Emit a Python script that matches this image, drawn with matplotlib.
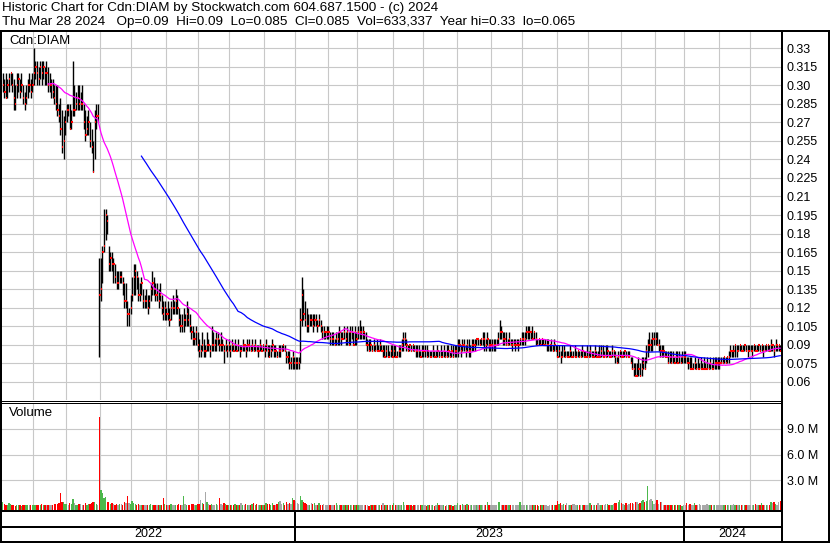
import numpy as np
import pandas as pd
import matplotlib
matplotlib.use("Agg")
import matplotlib.pyplot as plt
from matplotlib.lines import Line2D

plt.rcParams['font.family'] = ['Liberation Sans', 'DejaVu Sans']

# ---------------- data ----------------
holidays = ['2022-04-15', '2022-05-23', '2022-07-01', '2022-08-01', '2022-09-05', '2022-10-10',
            '2022-12-26', '2022-12-27', '2023-01-02', '2023-02-20', '2023-04-07', '2023-05-22',
            '2023-07-03', '2023-08-07', '2023-09-04', '2023-10-09', '2023-12-25', '2023-12-26',
            '2024-01-01', '2024-02-19']
start_date, end_date = '2022-04-01', '2024-03-28'

high_2022 = [
    0.31,0.305,0.31,0.305,0.31,0.31,0.31,0.305,0.30,0.31,0.31,0.305,0.31,0.30,0.295,0.30,0.305,0.31,0.305,0.31,
    0.33,0.32,0.32,0.315,0.32,0.32,0.32,0.315,0.32,0.315,0.31,0.305,0.305,0.30,0.30,0.30,0.285,0.29,0.28,0.275,0.28,
    0.285,0.285,0.285,0.28,0.32,0.30,0.295,0.30,0.30,0.295,0.30,0.285,0.28,0.275,0.28,0.27,0.265,0.255,0.28,0.285,0.285,0.16,
    0.16,0.17,0.20,0.20,0.195,0.17,0.165,0.165,0.16,0.155,0.15,0.15,0.15,0.15,0.145,0.14,0.14,0.125,0.12,0.13,
    0.145,0.155,0.155,0.15,0.145,0.14,0.145,0.135,0.13,0.135,0.13,0.13,0.14,0.15,0.145,0.14,0.14,0.135,0.14,0.13,0.125,0.125,
    0.12,0.125,0.12,0.125,0.13,0.125,0.135,0.13,0.12,0.115,0.115,0.12,0.115,0.125,0.12,0.115,0.105,0.105,0.10,0.105,0.10,
    0.095,0.09,0.10,0.095,0.09,0.10,0.095,0.09,0.105,0.10,0.095,0.10,0.10,0.095,0.10,0.095,0.09,0.095,0.09,0.095,
    0.09,0.095,0.09,0.095,0.09,0.095,0.09,0.09,0.095,0.09,0.09,0.095,0.095,0.09,0.095,0.09,0.095,0.09,0.09,0.095,0.09,0.09,
    0.09,0.095,0.09,0.09,0.09,0.095,0.09,0.09,0.085,0.09,0.09,0.09,0.09,0.09,0.085,0.085,0.085,0.08,0.085,0.08]
low_2022 = [
    0.295,0.29,0.29,0.29,0.295,0.30,0.295,0.28,0.28,0.29,0.295,0.29,0.295,0.285,0.28,0.285,0.29,0.295,0.29,0.295,
    0.30,0.305,0.30,0.30,0.305,0.30,0.305,0.30,0.30,0.295,0.295,0.29,0.29,0.285,0.28,0.275,0.27,0.26,0.245,0.24,0.26,
    0.27,0.275,0.265,0.265,0.275,0.275,0.28,0.28,0.28,0.28,0.28,0.265,0.255,0.26,0.26,0.25,0.245,0.23,0.24,0.265,0.27,0.08,
    0.125,0.14,0.165,0.175,0.18,0.15,0.15,0.15,0.14,0.14,0.135,0.135,0.14,0.14,0.13,0.12,0.12,0.105,0.105,0.115,
    0.125,0.13,0.13,0.135,0.125,0.125,0.13,0.12,0.12,0.12,0.115,0.12,0.125,0.13,0.13,0.125,0.125,0.12,0.125,0.115,0.11,0.11,
    0.11,0.11,0.105,0.11,0.115,0.115,0.115,0.115,0.105,0.10,0.10,0.10,0.105,0.105,0.105,0.10,0.095,0.09,0.09,0.09,0.085,
    0.08,0.08,0.085,0.08,0.08,0.085,0.085,0.08,0.085,0.085,0.085,0.085,0.09,0.085,0.085,0.085,0.075,0.085,0.08,0.085,
    0.08,0.085,0.085,0.085,0.085,0.085,0.08,0.085,0.085,0.085,0.08,0.085,0.085,0.085,0.085,0.085,0.085,0.085,0.08,0.085,0.085,0.085,
    0.08,0.085,0.08,0.08,0.08,0.085,0.08,0.08,0.08,0.08,0.08,0.085,0.085,0.085,0.075,0.075,0.07,0.07,0.07,0.07]
close_2022 = [
    0.30,0.295,0.29,0.30,0.305,0.31,0.30,0.29,0.285,0.30,0.305,0.295,0.30,0.29,0.285,0.29,0.30,0.30,0.295,0.30,
    0.31,0.315,0.31,0.305,0.315,0.31,0.315,0.31,0.31,0.30,0.30,0.30,0.295,0.29,0.285,0.28,0.275,0.265,0.25,0.255,0.27,
    0.28,0.28,0.265,0.27,0.28,0.28,0.285,0.29,0.285,0.285,0.285,0.27,0.26,0.265,0.27,0.255,0.25,0.23,0.27,0.275,0.275,0.13,
    0.135,0.165,0.17,0.195,0.19,0.155,0.16,0.155,0.155,0.145,0.14,0.14,0.145,0.145,0.14,0.125,0.125,0.115,0.115,0.12,
    0.13,0.145,0.15,0.145,0.13,0.13,0.14,0.125,0.125,0.125,0.12,0.125,0.135,0.14,0.135,0.13,0.13,0.125,0.13,0.12,0.115,0.12,
    0.115,0.115,0.11,0.12,0.12,0.12,0.125,0.12,0.11,0.105,0.105,0.11,0.11,0.115,0.11,0.105,0.10,0.095,0.095,0.10,0.09,
    0.085,0.085,0.09,0.085,0.085,0.09,0.09,0.085,0.09,0.09,0.09,0.095,0.095,0.09,0.09,0.09,0.085,0.09,0.085,0.09,
    0.085,0.09,0.085,0.09,0.085,0.09,0.085,0.085,0.09,0.09,0.085,0.09,0.09,0.085,0.09,0.085,0.09,0.085,0.085,0.09,0.085,0.09,
    0.085,0.09,0.085,0.08,0.085,0.09,0.085,0.085,0.08,0.085,0.085,0.085,0.09,0.085,0.08,0.08,0.075,0.075,0.08,0.075]
vol_2022 = [
    0.45,0.3,0.2,0.1,0.35,0.25,0.15,0.1,0.05,0.2,0.1,0.15,0.05,0.2,0.1,0.1,0.15,0.1,0.2,0.15,
    0.15,0.1,0.2,0.1,0.15,0.25,0.15,0.1,0.1,0.2,0.15,0.2,0.1,0.25,0.3,0.25,0.35,1.6,0.55,0.45,0.3,
    0.3,0.15,0.35,0.3,0.9,0.4,0.2,0.15,0.3,0.25,0.15,0.2,0.35,0.2,0.25,0.3,0.4,0.5,0.45,0.3,0.15,10.4,
    1.85,1.6,0.95,1.05,0.55,0.45,0.3,0.35,0.25,0.2,0.3,0.2,0.25,0.3,0.2,0.55,0.35,1.25,0.4,0.3,
    0.6,0.35,0.3,0.2,0.25,0.15,0.2,0.15,0.1,0.2,0.15,0.1,0.25,0.2,0.15,0.1,0.2,0.1,0.15,0.2,0.95,0.3,
    0.2,0.1,0.15,0.25,0.1,0.15,0.2,0.1,0.3,0.2,0.15,1.2,0.3,0.2,0.15,0.2,0.25,0.3,0.2,0.15,0.25,
    0.3,0.7,0.4,0.25,1.65,0.55,0.3,0.2,0.25,0.15,0.1,0.25,0.2,0.95,0.3,0.2,0.35,0.25,0.15,0.2,
    0.15,0.2,0.1,0.3,0.15,0.2,0.1,0.35,0.2,0.15,0.3,0.2,0.15,0.1,0.25,0.4,0.2,0.3,0.15,0.2,0.1,0.15,
    0.2,0.35,0.25,0.3,0.15,0.4,0.2,0.15,0.3,0.45,0.6,0.3,0.35,0.2,0.5,0.3,0.4,0.25,0.95,0.7]

high_2023 = [
    0.08,0.08,0.08,0.12,0.145,0.135,0.125,0.12,0.115,0.115,0.115,0.115,0.115,0.115,0.11,0.115,0.11,0.105,0.105,0.10,0.105,
    0.105,0.10,0.10,0.10,0.095,0.10,0.10,0.105,0.10,0.10,0.105,0.10,0.105,0.10,0.105,0.105,0.10,0.105,0.10,
    0.105,0.11,0.105,0.105,0.10,0.10,0.095,0.095,0.095,0.09,0.095,0.09,0.095,0.09,0.095,0.09,0.09,0.09,0.09,0.09,0.085,0.09,0.09,
    0.09,0.09,0.085,0.09,0.09,0.095,0.10,0.10,0.095,0.09,0.09,0.09,0.09,0.09,0.09,0.09,0.09,0.085,0.09,
    0.09,0.09,0.09,0.085,0.085,0.085,0.09,0.085,0.085,0.09,0.085,0.09,0.085,0.09,0.085,0.09,0.09,0.085,0.09,0.09,0.09,0.09,
    0.095,0.095,0.09,0.095,0.095,0.09,0.095,0.095,0.09,0.095,0.095,0.095,0.095,0.095,0.095,0.095,0.10,0.10,0.095,0.10,0.095,0.095,
    0.095,0.095,0.095,0.095,0.10,0.11,0.105,0.10,0.10,0.10,0.095,0.10,0.095,0.095,0.095,0.095,0.095,0.095,0.095,0.10,
    0.10,0.10,0.105,0.105,0.105,0.10,0.105,0.10,0.10,0.095,0.095,0.095,0.095,0.095,0.095,0.095,0.095,0.09,0.095,0.09,0.095,0.09,
    0.09,0.09,0.085,0.09,0.09,0.085,0.085,0.085,0.09,0.085,0.085,0.09,0.085,0.085,0.085,0.085,0.09,0.085,0.085,0.09,
    0.085,0.09,0.085,0.085,0.09,0.085,0.085,0.09,0.09,0.09,0.085,0.09,0.09,0.085,0.085,0.09,0.085,0.085,0.08,0.085,0.085,
    0.085,0.085,0.085,0.085,0.085,0.085,0.08,0.08,0.075,0.075,0.075,0.08,0.075,0.08,0.08,0.08,0.09,0.095,0.10,0.095,0.10,0.10,
    0.10,0.10,0.095,0.09,0.09,0.09,0.085,0.085,0.085,0.085,0.085,0.085,0.08,0.085,0.085,0.085,0.08,0.085,0.085]
low_2023 = [
    0.07,0.07,0.07,0.075,0.105,0.11,0.105,0.10,0.10,0.105,0.105,0.10,0.105,0.105,0.10,0.105,0.10,0.095,0.095,0.095,0.095,
    0.095,0.09,0.09,0.09,0.09,0.09,0.09,0.09,0.09,0.095,0.095,0.09,0.09,0.09,0.09,0.095,0.09,0.09,0.09,
    0.095,0.095,0.095,0.095,0.095,0.09,0.085,0.085,0.085,0.085,0.085,0.085,0.085,0.085,0.085,0.085,0.08,0.08,0.08,0.08,0.08,0.08,0.08,
    0.08,0.08,0.08,0.08,0.08,0.085,0.085,0.09,0.085,0.085,0.085,0.085,0.085,0.085,0.08,0.08,0.08,0.08,0.08,
    0.08,0.08,0.08,0.08,0.08,0.08,0.08,0.08,0.08,0.08,0.08,0.08,0.08,0.08,0.08,0.08,0.08,0.08,0.08,0.08,0.08,0.08,
    0.08,0.085,0.08,0.085,0.085,0.08,0.085,0.08,0.08,0.085,0.085,0.085,0.09,0.09,0.09,0.09,0.09,0.085,0.085,0.09,0.085,0.085,
    0.085,0.085,0.085,0.09,0.09,0.095,0.095,0.09,0.09,0.09,0.09,0.09,0.09,0.085,0.09,0.085,0.09,0.085,0.09,0.09,
    0.09,0.09,0.095,0.095,0.095,0.095,0.095,0.095,0.09,0.09,0.09,0.09,0.09,0.09,0.09,0.085,0.085,0.085,0.085,0.085,0.085,0.085,
    0.08,0.08,0.075,0.08,0.08,0.08,0.08,0.08,0.08,0.08,0.08,0.08,0.08,0.08,0.08,0.08,0.08,0.08,0.08,0.08,
    0.08,0.08,0.08,0.08,0.08,0.08,0.08,0.08,0.08,0.08,0.08,0.08,0.08,0.08,0.08,0.08,0.08,0.075,0.075,0.075,0.08,
    0.08,0.08,0.08,0.08,0.08,0.08,0.075,0.07,0.065,0.065,0.065,0.065,0.065,0.065,0.07,0.07,0.075,0.08,0.085,0.085,0.085,0.09,
    0.09,0.09,0.085,0.08,0.08,0.08,0.08,0.08,0.075,0.075,0.075,0.075,0.075,0.075,0.075,0.075,0.075,0.075,0.075]
close_2023 = [
    0.075,0.075,0.075,0.11,0.13,0.115,0.11,0.105,0.105,0.11,0.11,0.105,0.11,0.11,0.105,0.11,0.105,0.10,0.10,0.10,0.10,
    0.10,0.095,0.095,0.095,0.09,0.095,0.095,0.10,0.095,0.095,0.10,0.095,0.10,0.09,0.10,0.10,0.09,0.10,0.095,
    0.10,0.10,0.10,0.10,0.10,0.09,0.09,0.085,0.09,0.085,0.09,0.085,0.085,0.085,0.09,0.085,0.085,0.08,0.085,0.08,0.08,0.085,0.08,
    0.085,0.08,0.08,0.085,0.085,0.09,0.095,0.095,0.09,0.085,0.09,0.085,0.09,0.085,0.085,0.085,0.085,0.08,0.085,
    0.085,0.085,0.08,0.085,0.08,0.08,0.085,0.08,0.08,0.085,0.08,0.08,0.08,0.085,0.08,0.08,0.085,0.08,0.085,0.08,0.085,0.085,
    0.09,0.09,0.085,0.09,0.09,0.085,0.09,0.085,0.085,0.09,0.09,0.09,0.095,0.095,0.09,0.095,0.095,0.095,0.09,0.095,0.09,0.09,
    0.09,0.09,0.09,0.09,0.095,0.10,0.10,0.095,0.095,0.09,0.09,0.095,0.09,0.09,0.09,0.09,0.09,0.09,0.095,0.095,
    0.095,0.095,0.10,0.10,0.10,0.10,0.095,0.10,0.095,0.09,0.095,0.09,0.095,0.09,0.09,0.09,0.09,0.09,0.09,0.085,0.09,0.085,
    0.08,0.085,0.08,0.08,0.085,0.08,0.08,0.08,0.085,0.08,0.08,0.08,0.08,0.085,0.08,0.08,0.085,0.08,0.08,0.08,
    0.08,0.085,0.08,0.08,0.085,0.08,0.08,0.08,0.085,0.08,0.08,0.08,0.085,0.08,0.08,0.085,0.085,0.08,0.075,0.08,0.085,
    0.08,0.08,0.085,0.08,0.08,0.08,0.075,0.07,0.07,0.065,0.065,0.07,0.065,0.07,0.075,0.07,0.085,0.09,0.09,0.09,0.095,0.095,
    0.095,0.09,0.09,0.085,0.085,0.085,0.08,0.08,0.075,0.08,0.075,0.08,0.075,0.08,0.075,0.08,0.075,0.08,0.08]
vol_2023 = [
    0.6,0.4,0.3,1.2,0.7,0.5,0.4,0.3,0.2,0.15,0.35,0.3,0.4,0.2,0.15,0.35,0.2,0.15,0.3,0.15,0.2,
    0.15,0.2,0.1,0.15,0.1,0.4,0.2,0.1,0.15,0.1,0.2,0.15,0.1,0.2,0.15,0.1,0.2,0.1,0.15,
    0.2,0.1,0.15,0.1,0.2,0.15,0.1,0.05,0.15,0.2,0.1,0.15,0.1,0.2,0.1,0.15,0.35,0.2,0.1,0.15,0.1,0.2,0.1,
    0.35,0.1,0.15,0.2,0.1,0.15,0.45,0.2,0.1,0.15,0.1,0.2,0.05,0.1,0.15,0.1,0.2,0.1,0.15,
    0.1,0.15,0.05,0.1,0.2,0.1,0.15,0.05,0.1,0.35,0.1,0.2,0.15,0.1,0.05,0.1,0.15,0.1,0.2,0.05,0.1,0.15,
    0.35,0.1,0.15,0.3,0.1,0.2,0.3,0.15,0.1,0.2,0.15,0.1,0.2,0.1,0.15,0.2,0.1,0.1,0.15,0.45,0.1,0.2,
    0.15,0.1,0.2,0.1,0.45,0.45,0.2,0.15,0.1,0.2,0.1,0.15,0.1,0.2,0.1,0.15,0.1,0.2,0.45,0.2,
    0.15,0.1,0.2,0.15,0.1,0.2,0.1,0.15,0.1,0.15,0.05,0.1,0.2,0.1,0.15,0.1,0.05,0.1,0.15,0.1,0.2,0.1,
    0.62,0.3,0.35,0.2,0.3,0.15,0.35,0.2,0.1,0.2,0.3,0.25,0.1,0.15,0.2,0.1,0.15,0.2,0.1,0.15,
    0.2,0.4,0.1,0.2,0.15,0.1,0.4,0.2,0.15,0.1,0.2,0.25,0.3,0.15,0.2,0.1,0.3,0.35,0.4,0.5,0.7,
    0.4,0.3,0.2,0.35,0.2,0.3,0.35,0.4,0.3,0.5,0.45,0.3,0.4,0.6,0.7,0.5,0.6,2.4,0.7,0.8,0.6,0.3,
    0.4,0.7,0.3,0.5,0.45,0.2,0.15,0.1,0.2,0.1,0.15,0.1,0.2,0.1,0.15,0.1,0.2,0.05,0.1]

high_2024 = [
    0.085,0.08,0.08,0.08,0.08,0.075,0.08,0.075,0.08,0.075,0.08,0.075,0.08,0.075,0.08,0.075,0.08,0.075,0.08,0.08,0.08,0.08,
    0.08,0.08,0.08,0.08,0.08,0.08,0.085,0.09,0.085,0.09,0.09,0.09,0.09,0.09,0.09,0.09,0.09,0.09,0.09,0.09,
    0.09,0.09,0.09,0.09,0.09,0.09,0.09,0.09,0.09,0.09,0.09,0.09,0.09,0.095,0.09,0.09,0.095,0.09,0.09,0.09]
low_2024 = [
    0.075,0.075,0.07,0.07,0.07,0.07,0.07,0.07,0.07,0.07,0.07,0.07,0.07,0.07,0.07,0.07,0.07,0.07,0.07,0.07,0.07,0.07,
    0.07,0.075,0.075,0.075,0.075,0.075,0.075,0.08,0.08,0.08,0.08,0.08,0.085,0.085,0.085,0.085,0.085,0.085,0.08,0.085,
    0.085,0.08,0.085,0.085,0.085,0.085,0.085,0.085,0.08,0.085,0.085,0.085,0.085,0.085,0.085,0.08,0.085,0.085,0.085,0.085]
close_2024 = [
    0.08,0.075,0.075,0.07,0.07,0.07,0.075,0.07,0.07,0.07,0.07,0.07,0.07,0.07,0.07,0.07,0.075,0.07,0.07,0.075,0.075,0.075,
    0.075,0.075,0.075,0.08,0.075,0.08,0.08,0.085,0.085,0.085,0.09,0.085,0.085,0.09,0.085,0.085,0.09,0.085,0.085,0.085,
    0.085,0.085,0.09,0.085,0.085,0.09,0.085,0.09,0.085,0.085,0.09,0.09,0.085,0.09,0.09,0.085,0.09,0.09,0.09,0.085]
vol_2024 = [
    0.2,0.4,0.1,0.3,0.15,0.2,0.35,0.1,0.15,0.3,0.1,0.15,0.2,0.1,0.3,0.1,0.15,0.2,0.1,0.1,0.2,0.15,
    0.1,0.2,0.15,0.1,0.2,0.15,0.1,0.2,0.15,0.25,0.1,0.2,0.15,0.1,0.2,0.1,0.15,0.2,0.1,0.15,
    0.15,0.2,0.1,0.25,0.15,0.1,0.2,0.4,0.15,0.1,0.2,0.15,0.2,0.5,0.35,0.45,0.3,0.2,0.45,0.63]

price_ticks = [0.06, 0.075, 0.09, 0.105, 0.12, 0.135, 0.15, 0.165, 0.18, 0.195, 0.21,
               0.225, 0.24, 0.255, 0.27, 0.285, 0.30, 0.315, 0.33]
price_labels = ['0.06', '0.075', '0.09', '0.105', '0.12', '0.135', '0.15', '0.165', '0.18', '0.195', '0.21',
                '0.225', '0.24', '0.255', '0.27', '0.285', '0.30', '0.315', '0.33']
vol_ticks = [3.0, 6.0, 9.0]
vol_labels = ['3.0 M', '6.0 M', '9.0 M']
ma_short, ma_long = 30, 90

header1 = "Historic Chart for Cdn:DIAM by Stockwatch.com 604.687.1500 - (c) 2024"
header2 = "Thu Mar 28 2024   Op=0.09  Hi=0.09  Lo=0.085  Cl=0.085  Vol=633,337  Year hi=0.33  lo=0.065"
symbol = "Cdn:DIAM"

# ---------------- prepare ----------------
days = pd.bdate_range(start_date, end_date)
days = days[~days.isin(pd.to_datetime(holidays))]
high = np.array(high_2022 + high_2023 + high_2024)
low = np.array(low_2022 + low_2023 + low_2024)
close = np.array(close_2022 + close_2023 + close_2024)
vol = np.array(vol_2022 + vol_2023 + vol_2024)
N = len(days)
for nm, arr in (('high', high), ('low', low), ('close', close), ('vol', vol)):
    if len(arr) != N:
        raise ValueError(f"{nm} has {len(arr)} values, dates {N}")
x = np.arange(N)
ma1 = pd.Series(close).rolling(ma_short).mean()
ma2 = pd.Series(close).rolling(ma_long).mean()
month_starts = [i for i in range(1, N) if days[i].month != days[i - 1].month]
year_starts = [i for i in range(1, N) if days[i].year != days[i - 1].year]

diff = np.diff(close, prepend=close[0] - 0.005)
vcolors = np.where(diff > 0, '#4cb84c', np.where(diff < 0, '#ff0000', '#a8a8a8'))

# ---------------- figure ----------------
W, H = 830, 543
fig = plt.figure(figsize=(W / 100, H / 100), dpi=100)
fig.patch.set_facecolor('white')


def px_axes(x0, y0, x1, y1):
    return fig.add_axes([x0 / W, 1 - y1 / H, (x1 - x0) / W, (y1 - y0) / H])


def line_px(xs, ys, lw=2):
    fig.add_artist(Line2D([v / W for v in xs], [1 - v / H for v in ys], transform=fig.transFigure,
                          color='black', lw=lw * 0.72, solid_capstyle='butt', zorder=10))


GRID = '#c8c8c8'
FS = 9
FSH = 9.7
xlo, xhi = -0.5, N - 0.5
mgrid = [m - 0.5 for m in month_starts]

# price panel
ax = px_axes(2, 31, 781, 400)
ax.set_xlim(xlo, xhi)
ax.set_ylim(0.0452, 0.344)
for s in ax.spines.values():
    s.set_visible(False)
ax.set_xticks(mgrid)
ax.tick_params(axis='x', length=0, labelbottom=False)
ax.set_yticks(price_ticks)
ax.set_yticklabels(price_labels)
ax.yaxis.tick_right()
ax.tick_params(axis='y', length=0, pad=4.3, labelsize=FS)
ax.grid(True, color=GRID, lw=0.8)
ax.set_axisbelow(True)
ax.vlines(x, low, high, color='black', lw=1.0, zorder=3)
ax.hlines(close, x, x + 0.8, color='red', lw=1.5, zorder=4)
ax.plot(x, ma1, color='#ff00ff', lw=0.9, zorder=5)
ax.plot(x, ma2, color='#0000ff', lw=0.9, zorder=5)

# volume panel
axv = px_axes(2, 403, 781, 510)
axv.set_xlim(xlo, xhi)
vbase = -0.43
axv.set_ylim(vbase, 12.0)
for s in axv.spines.values():
    s.set_visible(False)
axv.set_xticks(mgrid)
axv.tick_params(axis='x', length=0, labelbottom=False)
axv.set_yticks(vol_ticks)
axv.set_yticklabels(vol_labels)
axv.yaxis.tick_right()
axv.tick_params(axis='y', length=0, pad=4.3, labelsize=FS)
axv.grid(True, color=GRID, lw=0.8)
axv.set_axisbelow(True)
axv.bar(x, vol - vbase, bottom=vbase, width=0.85, color=vcolors, zorder=3, antialiased=False)

# year strip
axs = px_axes(2, 510, 781, 541)
axs.set_xlim(xlo, xhi)
axs.set_ylim(0, 1)
axs.axis('off')
bounds = [xlo] + [y - 0.5 for y in year_starts] + [xhi]
for b in bounds[1:-1]:
    axs.axvline(b, color='black', lw=1.44)
for i in range(len(bounds) - 1):
    yr = days[0].year + i
    axs.text((bounds[i] + bounds[i + 1]) / 2, (541 - 534) / 31, str(yr),
             ha='center', va='center', fontsize=FS)

# texts
fig.text(2 / W, 1 - 8 / H, header1, ha='left', va='center', fontsize=FSH)
fig.text(2 / W, 1 - 22 / H, header2, ha='left', va='center', fontsize=FSH)
fig.text(9 / W, 1 - 41 / H, symbol, ha='left', va='center', fontsize=9.5)
fig.text(9 / W, 1 - 413 / H, 'Volume', ha='left', va='center', fontsize=9.5)

# frame lines
line_px([0, 830], [30.5, 30.5])
line_px([1, 1], [30, 543])
line_px([828.5, 828.5], [30, 543])
line_px([781.5, 781.5], [30, 543])
line_px([0, 781], [400.5, 400.5], lw=1)
line_px([0, 781], [402.5, 402.5], lw=1)
line_px([0, 781], [510.5, 510.5])
line_px([0, 781], [526.5, 526.5])
line_px([0, 830], [541.5, 541.5])

fig.savefig('out.png', dpi=100, facecolor='white')
